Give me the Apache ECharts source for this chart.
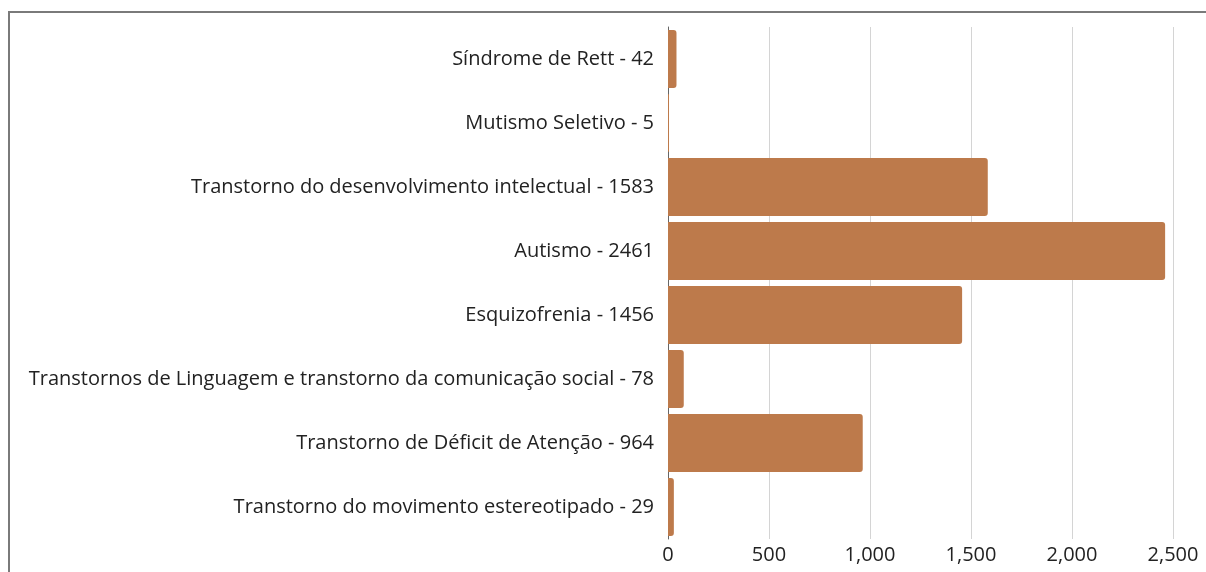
<!DOCTYPE html>
<html>
<head>
<meta charset="utf-8">
<script src="https://cdn.jsdelivr.net/npm/echarts@6/dist/echarts.min.js"></script>
<style>
  html, body { margin: 0; padding: 0; background: #fff; }
  #main { position: absolute; left: 0; top: 0; width: 1206px; height: 572px; }
  #frame {
    position: absolute; left: 8px; top: 11px; width: 1198px; height: 561px;
    border-top: 2px solid #7a7a7a; border-left: 2px solid #7a7a7a;
    box-sizing: border-box; pointer-events: none;
  }
</style>
</head>
<body>
<div id="main"></div>
<div id="frame"></div>
<script>
const categories = [
  "Síndrome de Rett - 42",
  "Mutismo Seletivo - 5",
  "Transtorno do desenvolvimento intelectual - 1583",
  "Autismo - 2461",
  "Esquizofrenia - 1456",
  "Transtornos de Linguagem e transtorno da comunicação social - 78",
  "Transtorno de Déficit de Atenção - 964",
  "Transtorno do movimento estereotipado - 29",
];
const values = [42, 5, 1583, 2461, 1456, 78, 964, 29];

let chartDom = document.getElementById("main");
let myChart = echarts.init(chartDom);
let option = {
  animation: false,
  textStyle: { fontFamily: "Open Sans" },
  grid: {
    left: 668,
    right: 33,
    top: 27,
    bottom: 33,
  },
  xAxis: {
    type: "value",
    min: 0,
    max: 2500,
    interval: 500,
    axisLine: { show: false },
    axisTick: { show: false },
    axisLabel: {
      color: "#222",
      fontSize: 20,
      margin: 6,
      formatter: (v) => v.toLocaleString("en-US"),
    },
    splitLine: { lineStyle: { color: "#d4d4d4", width: 1 } },
  },
  yAxis: {
    type: "category",
    inverse: true,
    data: categories,
    axisLine: { show: true, lineStyle: { color: "#666", width: 1 } },
    axisTick: { show: false },
    axisLabel: { color: "#222", fontSize: 20, margin: 14 },
  },
  series: [
    {
      type: "bar",
      data: values,
      barCategoryGap: "9%",
      itemStyle: { color: "#bd7a4b", borderRadius: [0, 3, 3, 0] },
    },
  ],
};
option && myChart.setOption(option);
</script>
</body>
</html>
